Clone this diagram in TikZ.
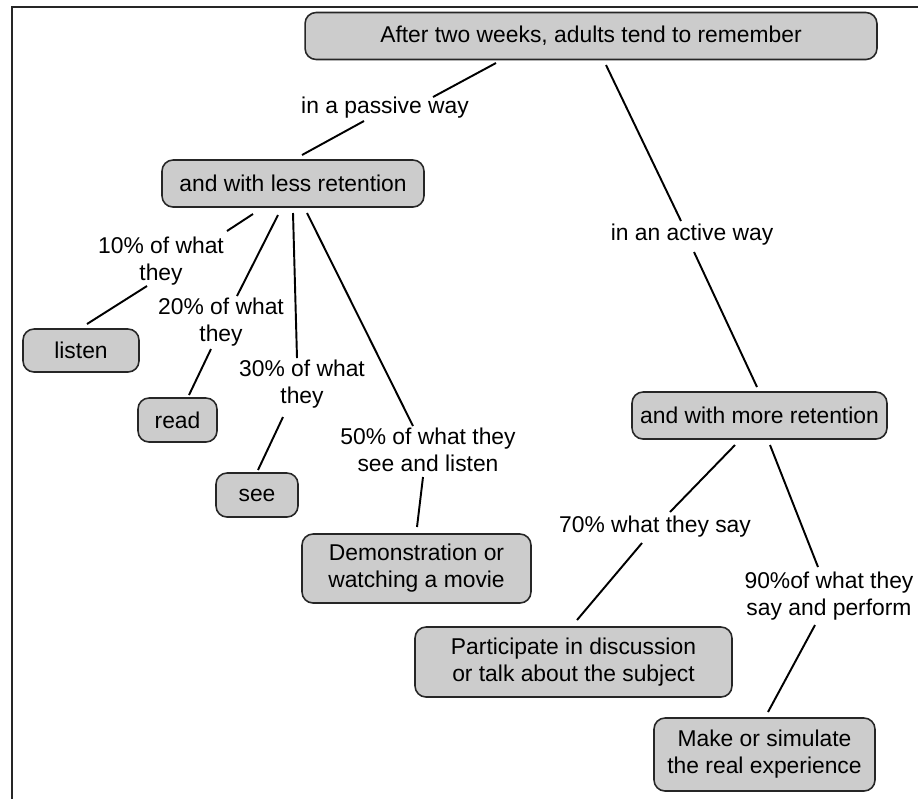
\documentclass[tikz,border=0pt]{standalone}
\usepackage{fontspec}
\setmainfont{Liberation Sans}
\usepackage{tikz}

\begin{document}
\begin{tikzpicture}[
    x=0.02cm, y=-0.02cm, % 以像素为单位, y 轴向下
    font=\fontsize{13}{15.3}\selectfont,
    concept/.style={draw=black!85, line width=0.9pt, fill=gray!40,
        rounded corners=0.22cm, align=center, inner sep=0pt},
    linkword/.style={align=center, inner sep=0pt},
    link/.style={line width=1.1pt}
    ]
    % --- 定义绘图区域 ---
    \useasboundingbox (0,0) rectangle (918,799);

    % 1. 外框 (左边和上边)
    \draw[line width=1.2pt, black!85] (918,7) -- (12,7) -- (12,799);

    % 2. 概念框
    \node[concept, minimum width=11.44cm, minimum height=0.94cm] (top) at (591,36)
        {After two weeks, adults tend to remember};
    \node[concept, minimum width=5.24cm, minimum height=0.94cm] (less) at (293,183.5) {and with less retention};
    \node[concept, minimum width=5.10cm, minimum height=0.94cm] (more) at (759.5,415.5) {and with more retention};
    \node[concept, minimum width=2.32cm, minimum height=0.86cm] (listen) at (81,350.5) {listen};
    \node[concept, minimum width=1.58cm, minimum height=0.88cm] (read) at (177.5,420) {read};
    \node[concept, minimum width=1.64cm, minimum height=0.88cm] (see) at (257,495) {see};
    \node[concept, minimum width=4.58cm, minimum height=1.38cm] (demo) at (416.5,568.5)
        {Demonstration or\\watching a movie};
    \node[concept, minimum width=6.34cm, minimum height=1.40cm] (part) at (573.5,662)
        {Participate in discussion\\or talk about the subject};
    \node[concept, minimum width=4.42cm, minimum height=1.46cm] (make) at (764.5,754.5)
        {Make or simulate\\the real experience};

    % 3. 连接词
    \node[linkword] (passive) at (385,108) {in a passive way};
    \node[linkword] (active) at (692,235) {in an active way};
    \node[linkword] (p10) at (161,261) {10\% of what\\they};
    \node[linkword] (p20) at (221,322) {20\% of what\\they};
    \node[linkword] (p30) at (302,384) {30\% of what\\they};
    \node[linkword] (p50) at (428,450) {50\% of what they\\see and listen};
    \node[linkword] (p70) at (655,527) {70\% what they say};
    \node[linkword] (p90) at (829,596) {90\%of what they\\say and perform};

    % 4. 连线 (概念 -> 连接词 -> 概念)
    \draw[link] ([shift={(-95,27)}]top.center) -- ([shift={(48,-11)}]passive.center);
    \draw[link] ([shift={(-21,13)}]passive.center) -- ([shift={(9,-28.5)}]less.center);
    \draw[link] ([shift={(15,29)}]top.center) -- ([shift={(-11,-14)}]active.center);
    \draw[link] ([shift={(2,17)}]active.center) -- ([shift={(-2.5,-28.5)}]more.center);

    % a) 被动方式
    \draw[link] ([shift={(-40,30.5)}]less.center) -- ([shift={(66,-30)}]p10.center);
    \draw[link] ([shift={(-14,25)}]p10.center) -- ([shift={(6,-26.5)}]listen.center);
    \draw[link] ([shift={(-15,31.5)}]less.center) -- ([shift={(16,-26)}]p20.center);
    \draw[link] ([shift={(-10,27)}]p20.center) -- ([shift={(11.5,-25)}]read.center);
    \draw[link] ([shift={(0,29.5)}]less.center) -- ([shift={(-5,-26)}]p30.center);
    \draw[link] ([shift={(-19,33)}]p30.center) -- ([shift={(1,-25)}]see.center);
    \draw[link] ([shift={(14,29.5)}]less.center) -- ([shift={(-15,-24)}]p50.center);
    \draw[link] ([shift={(-5,27)}]p50.center) -- ([shift={(0.5,-41.5)}]demo.center);

    % b) 主动方式
    \draw[link] ([shift={(-24.5,29.5)}]more.center) -- ([shift={(15,-15)}]p70.center);
    \draw[link] ([shift={(-13,16)}]p70.center) -- ([shift={(3.5,-42)}]part.center);
    \draw[link] ([shift={(10.5,29.5)}]more.center) -- ([shift={(-11,-29)}]p90.center);
    \draw[link] ([shift={(-14,29)}]p90.center) -- ([shift={(3.5,-42.5)}]make.center);
\end{tikzpicture}
\end{document}
